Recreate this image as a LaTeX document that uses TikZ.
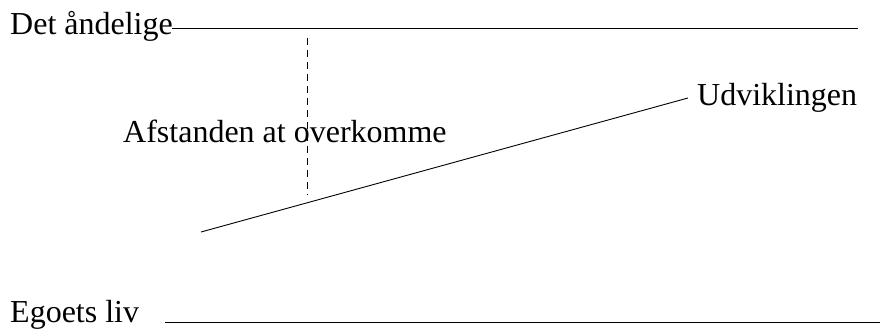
\documentclass[tikz,border=0pt]{standalone}
\usepackage{fontspec}
\setmainfont{Liberation Serif}
\usetikzlibrary{positioning}
\tikzset{
  lbl/.style={anchor=base west,inner sep=0pt,font=\fontsize{32}{38}\selectfont},
  rule/.style={draw=black,line width=0.9pt},
  gap/.style={draw=black,line width=0.9pt,dash pattern=on 7pt off 5pt},
}
\begin{document}
\begin{tikzpicture}[x=1pt,y=1pt]
    \useasboundingbox (0,0) rectangle (881,329);
    \node[lbl] (det) at (10,294) {Det åndelige};
    \node[lbl] (afst) at (123,186) {Afstanden at overkomme};
    \node[lbl] (udv) at (697,223) {Udviklingen};
    \node[lbl] (ego) at (10,6) {Egoets liv};
    \coordinate (topR) at (858,301);
    \coordinate (gapT) at (307,291);
    \coordinate (gapB) at (307,134);
    \coordinate (devL) at (201,97);
    \coordinate (devR) at (688,231);
    \coordinate (egoL) at (165,6.3);
    \coordinate (egoR) at (880,6.3);
    \draw[rule] (det.base east) ++(-1,7) -- (topR);
    \draw[gap] (gapT) -- (gapB);
    \draw[rule] (devL) -- (devR);
    \draw[rule] (egoL) -- (egoR);
\end{tikzpicture}
\end{document}
